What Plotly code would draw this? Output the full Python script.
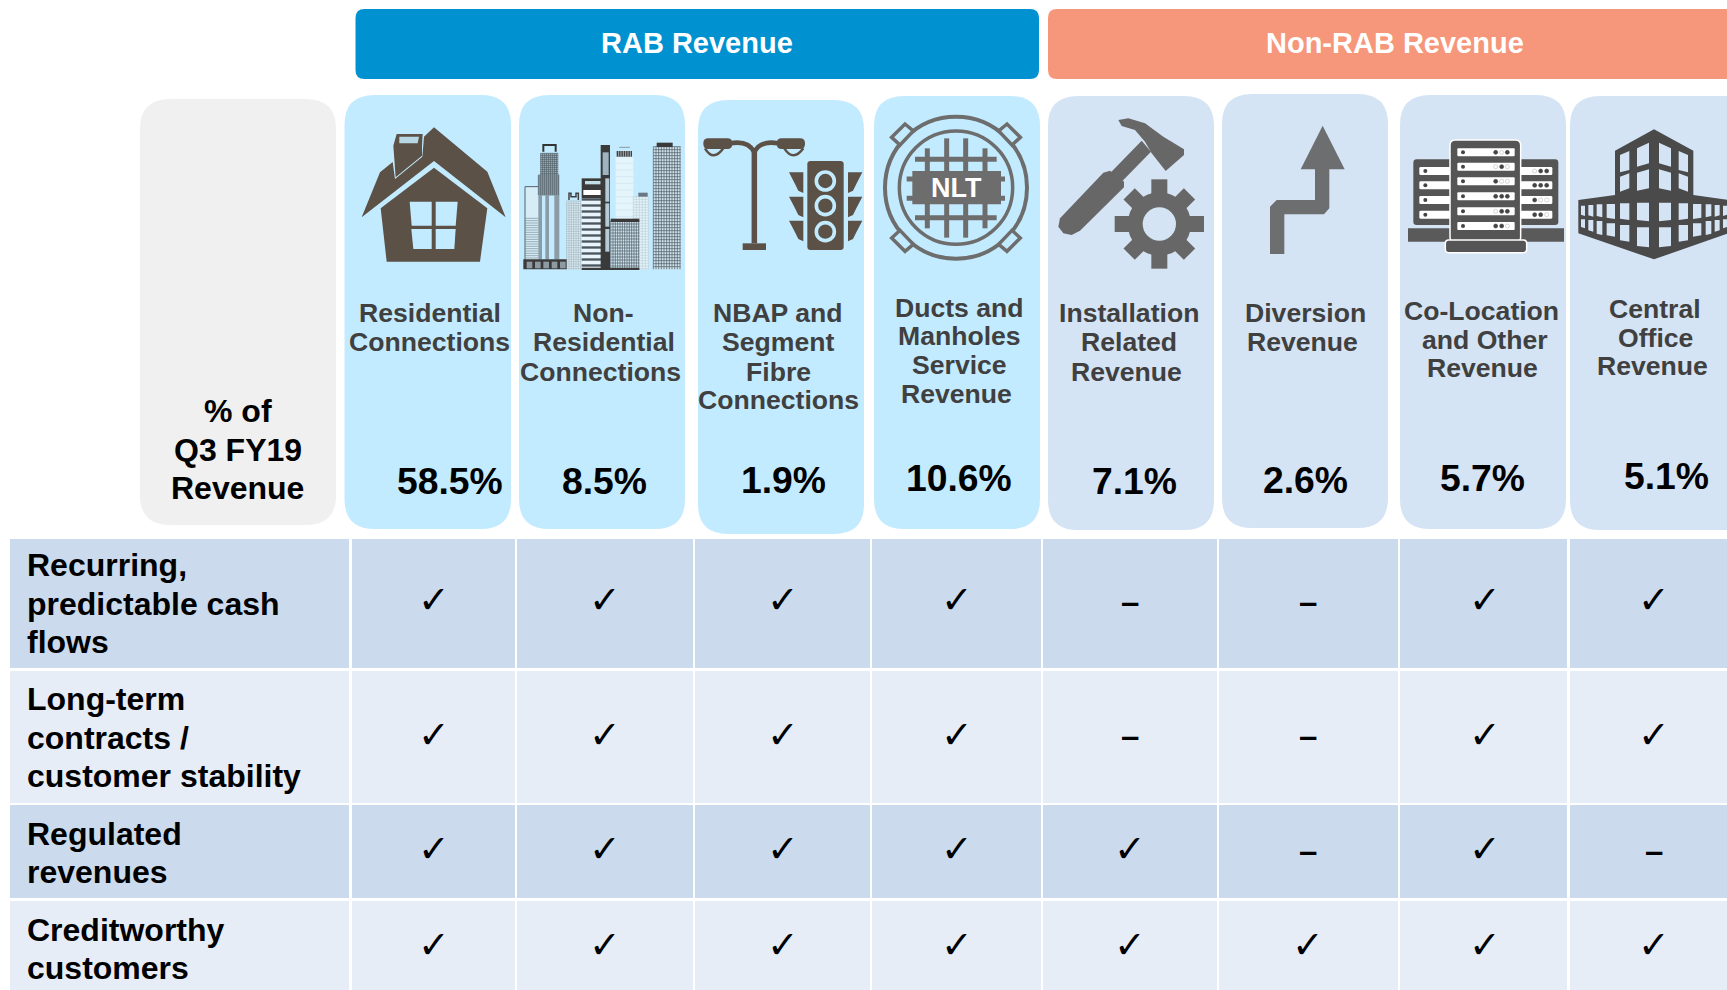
import math
import plotly.graph_objects as go

# ---------- data ----------
GROUPS = ["RAB Revenue", "Non-RAB Revenue"]
METRIC_LABEL = ["% of", "Q3 FY19", "Revenue"]
CATEGORIES = [
    ["Residential", "Connections"],
    ["Non-", "Residential", "Connections"],
    ["NBAP and", "Segment", "Fibre", "Connections"],
    ["Ducts and", "Manholes", "Service", "Revenue"],
    ["Installation", "Related", "Revenue"],
    ["Diversion", "Revenue"],
    ["Co-Location", "and Other", "Revenue"],
    ["Central", "Office", "Revenue"],
]
SHARE = [58.5, 8.5, 1.9, 10.6, 7.1, 2.6, 5.7, 5.1]
ROW_LABELS = [
    ["Recurring,", "predictable cash", "flows"],
    ["Long-term", "contracts /", "customer stability"],
    ["Regulated", "revenues"],
    ["Creditworthy", "customers"],
]
HAS_FEATURE = [
    [1, 1, 1, 1, 0, 0, 1, 1],
    [1, 1, 1, 1, 0, 0, 1, 1],
    [1, 1, 1, 1, 1, 0, 1, 0],
    [1, 1, 1, 1, 1, 1, 1, 1],
]

# ---------- layout constants ----------
W, H = 1727, 990
S = 1727 / 1568
FONT = "Liberation Sans"
RAB_CARD, NON_CARD = "#C3EBFF", "#D4E4F4"
ROW_DARK, ROW_LIGHT = "#CBDBED", "#E6EDF7"
BROWN, GREY, ARROW, DARK = "#5B5147", "#676767", "#6D6E70", "#4A4A4A"

COL_EDGES = [(352, 515), (517, 693), (695, 870), (872, 1041), (1043, 1217), (1219, 1398), (1400, 1567), (1570, 1735)]
ROW_EDGES = [(539, 668), (671, 803), (805, 898), (901, 995)]
CARDS = [(344.5, 95, 511, 529), (519, 95, 685, 529), (698, 100, 864, 534), (874, 96, 1040, 529),
         (1048, 96, 1214, 530), (1222, 94, 1388, 528), (1400, 95, 1566, 529), (1570, 96, 1760, 530)]
LABEL_POS = [  # per line (x, y) centres in the 1568-wide picture
    [(390, 284.3), (390, 310.5)],
    [(548, 284.3), (548, 310.5), (545, 337.5)],
    [(706.5, 284.3), (706.5, 310.5), (706.5, 337.5), (706.5, 363)],
    [(871, 279.5), (871, 305.5), (871, 331.5), (868, 357.5)],
    [(1025, 284.3), (1025, 310.5), (1023, 337.5)],
    [(1185, 284.3), (1182.5, 310.5)],
    [(1345, 282.3), (1348, 308.5), (1346, 334.5)],
    [(1503, 280.3), (1503, 306.5), (1500, 332.5)],
]
SHARE_POS = [(409, 437), (549, 437), (711, 436), (871, 434), (1030, 437), (1185, 436), (1346, 434), (1513, 432)]
CHECK_X = [394, 549, 711, 869, 1026, 1188, 1348, 1502]
CHECK_Y = [545, 667, 771, 858]
ROW_LINE_Y = [[513, 548, 583], [635, 670, 705], [757.5, 792], [844.5, 879]]

shapes, notes = [], []


def rrect(x0, y0, x1, y1, r, fill, line=None, lw=0):
    p = (f"M{x0+r},{y0} L{x1-r},{y0} Q{x1},{y0} {x1},{y0+r} L{x1},{y1-r} Q{x1},{y1} {x1-r},{y1} "
         f"L{x0+r},{y1} Q{x0},{y1} {x0},{y1-r} L{x0},{y0+r} Q{x0},{y0} {x0+r},{y0} Z")
    shapes.append(dict(type="path", path=p, fillcolor=fill, line=dict(color=line or fill, width=lw), layer="above"))


def rect(x0, y0, x1, y1, fill):
    shapes.append(dict(type="rect", x0=x0, y0=y0, x1=x1, y1=y1, fillcolor=fill, line=dict(width=0)))


def text(x, y, s, size, color="#000000", anchor="center", bold=True, font=FONT):
    notes.append(dict(x=x, y=y, text=f"<b>{s}</b>" if bold else s, showarrow=False, xanchor=anchor, yanchor="middle",
                      font=dict(family=font, size=size, color=color), borderpad=0))


class Icon:
    """Draws with coordinates measured on a 3x enlargement anchored at (ox, oy)."""

    def __init__(self, ox, oy):
        self.ox, self.oy = ox, oy

    def p(self, x, y):
        return f"{self.ox + x / 3:.2f},{self.oy + y / 3:.2f}"

    def poly(self, pts, fill, closed=True, line=None, lw=0):
        d = "M" + " L".join(self.p(*q) for q in pts) + (" Z" if closed else "")
        shapes.append(dict(type="path", path=d, fillcolor=fill if closed else "rgba(0,0,0,0)",
                           line=dict(color=line or fill, width=lw)))

    def stroke(self, pts, color, lw):
        d = "M" + " L".join(self.p(*q) for q in pts)
        shapes.append(dict(type="path", path=d, line=dict(color=color, width=lw)))

    def curve(self, a, c, b, color, lw):
        d = f"M{self.p(*a)} Q{self.p(*c)} {self.p(*b)}"
        shapes.append(dict(type="path", path=d, line=dict(color=color, width=lw)))

    def box(self, x0, y0, x1, y1, fill):
        rect(self.ox + x0 / 3, self.oy + y0 / 3, self.ox + x1 / 3, self.oy + y1 / 3, fill)

    def rbox(self, x0, y0, x1, y1, r, fill, line=None, lw=0):
        rrect(self.ox + x0 / 3, self.oy + y0 / 3, self.ox + x1 / 3, self.oy + y1 / 3, r / 3, fill, line, lw)

    def circle(self, cx, cy, r, fill, line=None, lw=0, ry=None):
        ry = r if ry is None else ry
        shapes.append(dict(type="circle", x0=self.ox + (cx - r) / 3, x1=self.ox + (cx + r) / 3,
                           y0=self.oy + (cy - ry) / 3, y1=self.oy + (cy + ry) / 3,
                           fillcolor=fill, line=dict(color=line or fill, width=lw)))

    def hatch(self, x0, y0, x1, y1, dx, dy, color, lw=0.6):
        d = []
        if dx:
            x = x0
            while x <= x1:
                d.append(f"M{self.p(x, y0)} L{self.p(x, y1)}")
                x += dx
        if dy:
            y = y0
            while y <= y1:
                d.append(f"M{self.p(x0, y)} L{self.p(x1, y)}")
                y += dy
        shapes.append(dict(type="path", path=" ".join(d), line=dict(color=color, width=lw)))


# ---------- banners, cards, table ----------
rrect(355.5, 9, 1039, 79, 9, "#0091D1")
rrect(1048, 9, 1780, 79, 9, "#F6967A")
text(633 * S, 39 * S, GROUPS[0], 29, "#FFFFFF")
text(1267 * S, 39 * S, GROUPS[1], 29, "#FFFFFF")

rrect(140, 99, 336, 525, 30, "#F0F0F0")
for i, (x0, y0, x1, y1) in enumerate(CARDS):
    rrect(x0, y0, x1, y1, 30, RAB_CARD if i < 4 else NON_CARD)

for r, (y0, y1) in enumerate(ROW_EDGES):
    fill = ROW_DARK if r % 2 == 0 else ROW_LIGHT
    rect(10, y0, 349, y1, fill)
    for (x0, x1) in COL_EDGES:
        rect(x0, y0, x1, y1, fill)

# ---------- texts ----------
for y, s in zip([373, 408.5, 443], METRIC_LABEL):
    text(216 * S, y * S, s, 32)
for lines, pos in zip(CATEGORIES, LABEL_POS):
    for s, (x, y) in zip(lines, pos):
        text(x * S, y * S, s, 26.6, "#404040")
for v, (x, y) in zip(SHARE, SHARE_POS):
    text(x * S, y * S, f"{v}%", 37.3)
for lines, ys in zip(ROW_LABELS, ROW_LINE_Y):
    for s, y in zip(lines, ys):
        text(24 * S, y * S, s, 32, anchor="left")
for r, row in enumerate(HAS_FEATURE):
    for c, flag in enumerate(row):
        if flag:
            text(CHECK_X[c] * S, CHECK_Y[r] * S, "✓", 38, bold=False, font="DejaVu Sans")
        else:
            text(CHECK_X[c] * S, (CHECK_Y[r] + 1) * S, "–", 33)

# ---------- icon: house ----------
ic = Icon(350, 115)
ic.poly([(35, 307), (90, 172), (128, 141), (135, 192), (217, 125), (222, 65), (252, 37), (412, 170), (467, 307), (252, 138)], BROWN)
ic.poly([(130, 92), (140, 57), (218, 57), (216, 92), (216, 122), (137, 187)], BROWN)
ic.poly([(148, 65), (207, 65), (203, 85), (148, 85)], "#B8D8E6")
ic.poly([(92, 280), (252, 158), (412, 280), (390, 440), (110, 440)], BROWN)
for w in ([(179, 260), (245, 260), (245, 332), (185, 332)], [(257, 260), (323, 260), (317, 332), (257, 332)],
          [(184, 342), (245, 342), (245, 402), (190, 402)], [(257, 342), (317, 342), (313, 402), (257, 402)]):
    ic.poly(w, RAB_CARD)

# ---------- icon: city ----------
GRID = "#6F7F8A"
ic.box(525, 215, 565, 435, "#D6ECF6")
ic.stroke([(525, 435), (525, 215), (565, 215)], "#55626B", 1)
ic.hatch(525, 310, 565, 435, 0, 7, GRID)
ic.box(572, 115, 625, 180, "#A9BAC5")
ic.hatch(572, 115, 625, 180, 6, 6, "#4E5B64", 0.7)
ic.box(565, 180, 628, 240, "#A9BAC5")
ic.hatch(565, 180, 628, 240, 6, 6, "#4E5B64", 0.7)
ic.stroke([(580, 110), (580, 90), (617, 90), (617, 110)], "#333333", 2)
ic.box(565, 240, 576, 433, "#8C9CA6")
ic.box(586, 240, 597, 433, "#8C9CA6")
ic.box(613, 240, 628, 433, "#8C9CA6")
ic.box(650, 258, 692, 463, "#DCEFF7")
ic.hatch(650, 258, 692, 463, 7, 7, "#9FB0BA", 0.6)
ic.stroke([(657, 255), (657, 235), (663, 235), (663, 245), (678, 245), (678, 235), (685, 235), (685, 255)], "#404040", 1.5)
ic.box(520, 433, 650, 463, "#3A3A3A")
for x in range(530, 640, 25):
    ic.box(x, 440, x + 17, 460, "#8E9AA2")
ic.box(797, 125, 850, 312, "#E4F5FC")
ic.hatch(797, 125, 850, 312, 0, 20, "#C8DCE6", 0.5)
ic.box(800, 108, 846, 125, "#3F3F3F")
ic.hatch(806, 108, 846, 125, 7, 0, "#C0D0D8", 0.8)
ic.stroke([(808, 97), (840, 97)], "#8898A2", 1)
ic.box(850, 245, 895, 463, "#E2F2F9")
ic.hatch(850, 245, 895, 463, 9, 8, "#B6C6CF", 0.5)
ic.box(865, 233, 893, 245, "#6A7680")
ic.box(695, 190, 765, 460, "#E8F4FA")
ic.box(695, 190, 765, 250, "#3A3A3A")
ic.box(705, 198, 752, 208, "#C3DDE8")
ic.box(700, 225, 755, 240, "#FFFFFF")
for y in range(250, 460, 18):
    ic.box(695, y, 765, y + 7, "#4A555D")
ic.box(752, 90, 780, 465, "#3A3A3A")
ic.box(758, 112, 776, 180, "#9FB4BF")
ic.box(766, 190, 778, 260, "#B6CBD5")
ic.box(766, 265, 778, 335, "#B6CBD5")
ic.box(766, 342, 778, 410, "#B6CBD5")
ic.box(782, 318, 868, 463, "#D3E7F1")
ic.hatch(782, 318, 868, 463, 7, 9, "#4F5C66", 0.7)
ic.box(782, 311, 868, 321, "#3A3A3A")
ic.box(695, 458, 868, 465, "#3A3A3A")
ic.box(910, 95, 992, 463, "#CFE2EC")
ic.hatch(910, 95, 992, 463, 8, 9, "#4F5C66", 0.7)
ic.box(920, 83, 968, 96, "#3A3A3A")

# ---------- icon: lamp + traffic light ----------
ic = Icon(695, 105)
ic.stroke([(178, 130), (178, 415)], BROWN, 5.5)
ic.box(143, 415, 213, 435, BROWN)
ic.curve((105, 115), (160, 105), (178, 142), BROWN, 4.5)
ic.curve((250, 115), (195, 105), (178, 142), BROWN, 4.5)
ic.rbox(25, 100, 112, 132, 15, BROWN)
ic.rbox(245, 100, 330, 132, 15, BROWN)
ic.curve((30, 130), (55, 172), (85, 130), BROWN, 2.5)
ic.curve((268, 130), (295, 172), (325, 130), BROWN, 2.5)
ic.rbox(337, 168, 446, 435, 10, BROWN)
for cy in (228, 302, 380):
    ic.circle(391, cy, 27, BROWN, RAB_CARD, 3.6)
for y0 in (202, 275, 347):
    ic.poly([(282, y0), (325, y0), (325, y0 + 62), (310, y0 + 55), (300, y0 + 35)], BROWN)
    ic.poly([(502, y0), (459, y0), (459, y0 + 62), (474, y0 + 55), (484, y0 + 35)], BROWN)

# ---------- icon: manhole ----------
MH = "#6D6D6D"
ic.circle(783, 248, 213, "rgba(0,0,0,0)", MH, 4)
ic.circle(783, 248, 170, "rgba(0,0,0,0)", MH, 3.5)
for sx in (1, -1):
    for sy in (1, -1):
        pts = [(-193, -151), (-153, -191), (-128, -170), (-168, -128)]
        ic.poly([(783 + sx * a, 248 + sy * b) for a, b in pts], RAB_CARD, line=MH, lw=3.5)
for x, y0, y1 in ((697, 130, 370), (755, 100, 398), (812, 100, 398), (870, 130, 370)):
    ic.stroke([(x, y0), (x, y1)], MH, 5)
for y, x0, x1 in ((163, 660, 905), (222, 635, 930), (280, 635, 930), (338, 660, 905)):
    ic.stroke([(x0, y), (x1, y)], MH, 5)
ic.box(652, 198, 918, 298, MH)
text(695 + 783 / 3, 105 + 250 / 3, "NLT", 27, "#FFFFFF")

# ---------- icon: hammer + gear ----------
ic = Icon(1050, 110)
ic.poly([(30, 325), (160, 188), (180, 182), (222, 215), (222, 232), (90, 362), (65, 375), (40, 370), (25, 350)], GREY)
ic.poly([(180, 190), (275, 92), (303, 125), (212, 218)], GREY)
ic.poly([(205, 30), (235, 25), (285, 40), (340, 80), (402, 118), (402, 135), (347, 183), (305, 130), (285, 95), (255, 60), (215, 48)], GREY)
cx, cy = 328, 342
for k in range(8):
    a = k * math.pi / 4
    ca, sa = math.cos(a), math.sin(a)
    L = 134 if k in (0, 2, 4, 6) else 128
    w = 24
    ic.poly([(cx + ca * 60 - sa * w, cy + sa * 60 + ca * w), (cx + ca * L - sa * w, cy + sa * L + ca * w),
             (cx + ca * L + sa * w, cy + sa * L - ca * w), (cx + ca * 60 + sa * w, cy + sa * 60 - ca * w)], GREY)
ic.circle(cx, cy, 95, GREY)
ic.circle(cx, cy, 50, NON_CARD)

# ---------- icon: arrow ----------
ic.poly([(818, 47), (884, 178), (752, 178)], ARROW)
ic.poly([(795, 175), (838, 175), (838, 295), (822, 313), (703, 313), (703, 432), (660, 432), (660, 290), (680, 270), (795, 270)], ARROW)

# ---------- icon: server racks ----------
ic = Icon(1400, 120)
RACK = "#555555"
ic.rbox(40, 118, 165, 315, 10, RACK)
ic.rbox(350, 118, 475, 315, 10, RACK)
ic.box(24, 325, 492, 365, "#5A5A5A")
for y in (141, 184, 228, 272):
    ic.rbox(58, y, 160, y + 24, 4, "#FFFFFF")
    ic.circle(76, y + 12, 6, "#444444")
    ic.rbox(355, y, 457, y + 24, 4, "#FFFFFF")
for y, pat in zip((141, 184, 228, 272), ("011", "111", "100", "110")):
    for x, on in zip((404, 422, 440), pat):
        ic.circle(x, y + 12, 6, "#444444" if on == "1" else "#FFFFFF", "#444444" if on == "1" else "#BBBBBB", 0.6)
ic.rbox(150, 60, 362, 368, 16, RACK, "#FFFFFF", 1.5)
for y, pat in zip((85, 128, 172, 217, 262, 306), ("101", "010", "100", "111", "011", "110")):
    ic.rbox(172, y, 344, y + 24, 3, "#FFFFFF")
    ic.circle(189, y + 12, 6, "#444444")
    for x, on in zip((287, 305, 322), pat):
        ic.circle(x, y + 12, 6, "#444444" if on == "1" else "#FFFFFF", "#444444" if on == "1" else "#BBBBBB", 0.6)
ic.rbox(136, 360, 380, 398, 10, RACK, "#FFFFFF", 1.5)

# ---------- icon: office building ----------
BLD = "#4A4A4A"
ic.poly([(645, 92), (762, 28), (880, 92), (880, 225), (985, 240), (985, 340), (762, 418), (535, 340), (535, 240), (645, 225)], BLD)
UP = [[(660, 105), (688, 93), (688, 150), (660, 157)], [(711, 85), (747, 68), (747, 130), (711, 140)],
      [(660, 170), (688, 160), (688, 205), (660, 215)], [(711, 158), (747, 148), (747, 205), (711, 212)]]
COLS = [(543, 555, 257, 288, 298, 325), (565, 580, 255, 290, 300, 335), (590, 607, 253, 292, 303, 345),
        (620, 645, 252, 297, 310, 350), (660, 688, 250, 300, 315, 365), (711, 747, 248, 304, 322, 382)]
for q in UP:
    ic.poly(q, NON_CARD)
    ic.poly([(1524 - a, b) for a, b in q], NON_CARD)
for x0, x1, t1, b1, t2, b2 in COLS:
    for t, b in ((t1, b1), (t2, b2)):
        q = [(x0, t), (x1, t), (x1, b), (x0, b - 4)]
        ic.poly(q, NON_CARD)
        ic.poly([(1524 - a, c) for a, c in q], NON_CARD)

# ---------- figure ----------
fig = go.Figure()
fig.update_layout(
    width=W, height=H, margin=dict(l=0, r=0, t=0, b=0), paper_bgcolor="#FFFFFF", plot_bgcolor="#FFFFFF",
    xaxis=dict(range=[0, W], visible=False, fixedrange=True),
    yaxis=dict(range=[H, 0], visible=False, fixedrange=True),
    shapes=shapes, annotations=notes, showlegend=False,
)
fig.write_html("out.html", config=dict(displayModeBar=False),
               post_script="document.body.style.margin='0';document.documentElement.style.overflow='hidden';")
